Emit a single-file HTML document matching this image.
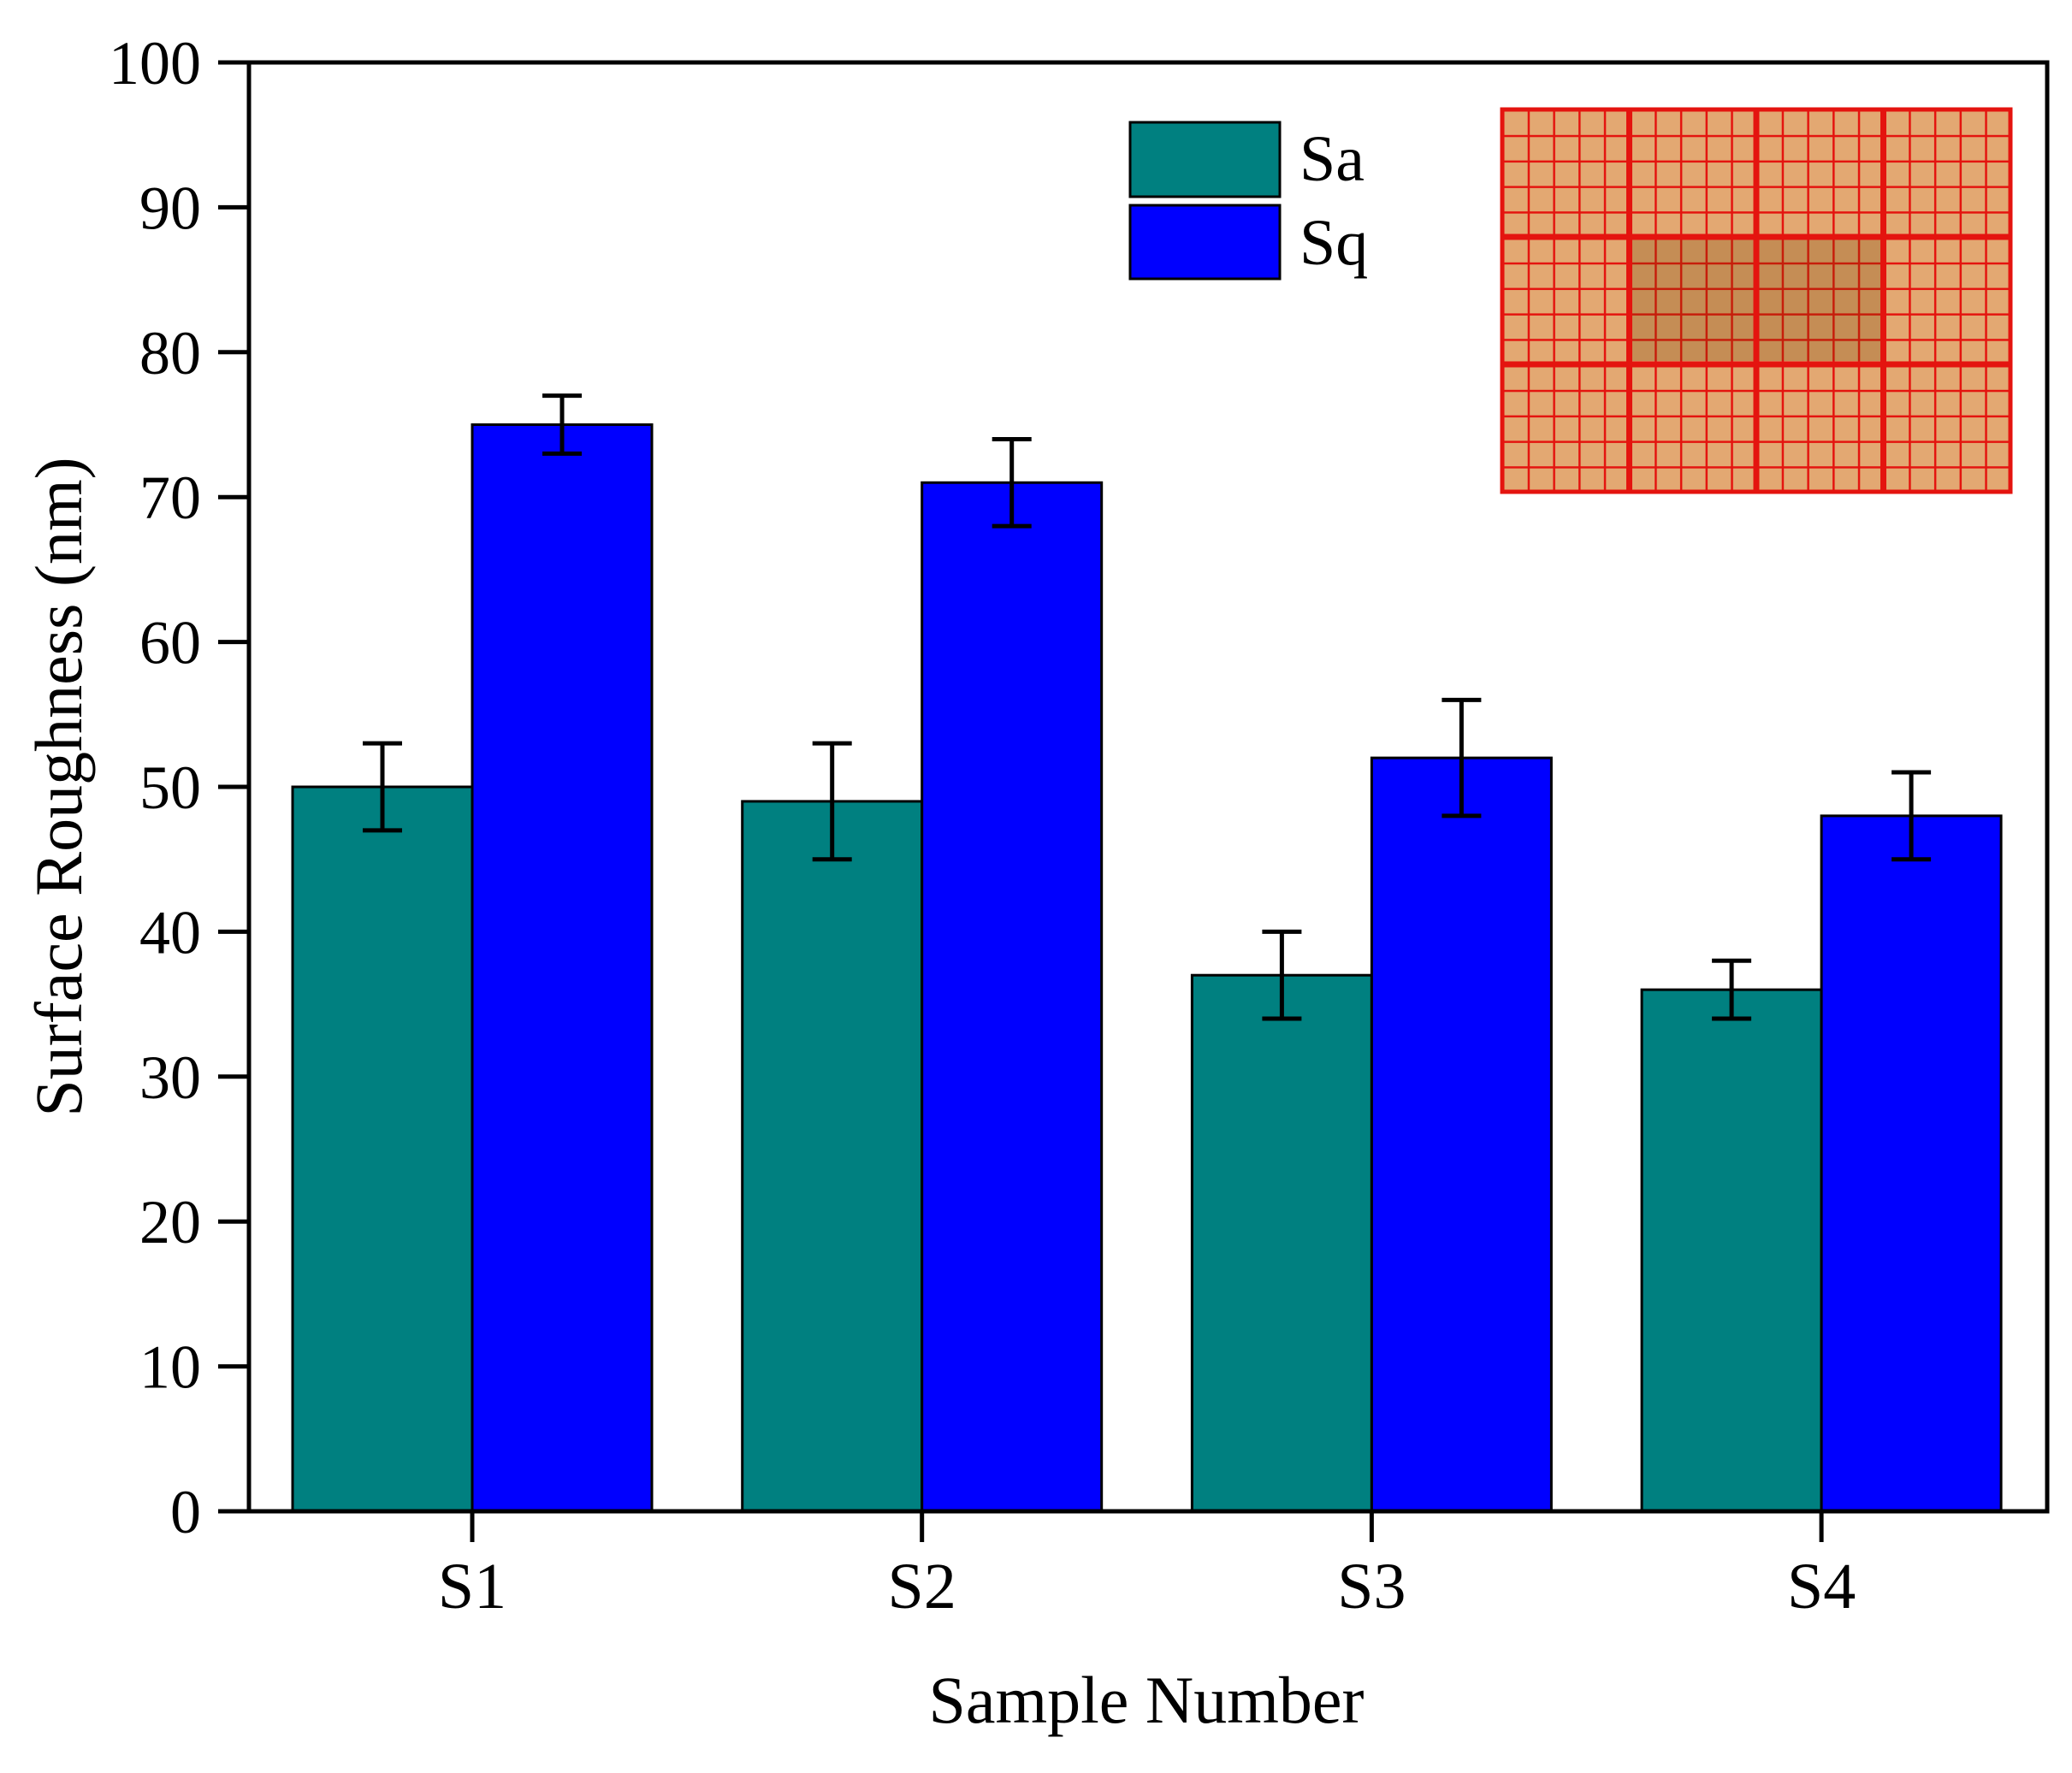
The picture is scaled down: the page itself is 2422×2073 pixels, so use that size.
<!DOCTYPE html>
<html><head><meta charset="utf-8"><style>
html,body{margin:0;padding:0;background:#fff;}
svg{display:block;}
text{font-family:"Liberation Serif",serif;fill:#000;}
</style></head><body>
<svg id="chart" width="2422" height="2073" viewBox="0 0 2422 2073" xmlns="http://www.w3.org/2000/svg">
<defs>
<pattern id="minor" width="29.7" height="29.8" patternUnits="userSpaceOnUse" x="1756" y="128">
<rect width="29.7" height="29.8" fill="#e3a872"/>
<path d="M0 0H29.7M0 0V29.8" stroke="#e4140f" stroke-width="5"/>
</pattern>
</defs>
<g id="inset">
<rect x="1756" y="128" width="594" height="447" fill="url(#minor)"/>
<rect x="1905" y="278" width="293" height="144" fill="#6b3a00" opacity="0.25"/>
<g stroke="#e4140f" stroke-width="7">
<path d="M1904.5 128V575M2053 128V575M2201.5 128V575M1756 277H2350M1756 426H2350"/>
</g>
<rect x="1756" y="128" width="594" height="447" fill="none" stroke="#e4140f" stroke-width="5"/>
</g>
<g id="plot"></g>
<g id="legend">
<rect x="1321" y="143" width="175" height="87" fill="#008080" stroke="#000" stroke-width="3"/>
<text x="1519" y="211" font-size="76">Sa</text>
<rect x="1321" y="240" width="175" height="86" fill="#0000ff" stroke="#000" stroke-width="3"/>
<text x="1519" y="309" font-size="76">Sq</text>
</g>
<text x="1340" y="2014" font-size="78" text-anchor="middle">Sample Number</text>
<text transform="translate(95,920) rotate(-90)" font-size="78" text-anchor="middle">Surface Roughness (nm)</text>
</svg>
<script>
const categories = ["S1","S2","S3","S4"];
const saValues = [50,49,37,36];
const sqValues = [75,71,52,48];
const saErrors = [3,4,3,2];
const sqErrors = [2,3,4,3];
const yTicks = [0,10,20,30,40,50,60,70,80,90,100];

const NS="http://www.w3.org/2000/svg";
const L=291,R=2393,T=73,B=1767;
const y=v=>B-(v/100)*(B-T);
const x=i=>552+i*525.7;
const bw=210;
const g=document.getElementById('plot');
function mk(tag,a){const e=document.createElementNS(NS,tag);for(const k in a)e.setAttribute(k,a[k]);g.appendChild(e);return e;}
function bar(i,v,err,left,color,name){
  const x0=left?x(i)-bw:x(i);
  const r=mk('rect',{x:x0,y:y(v),width:bw,height:B-y(v),fill:color,stroke:'#000','stroke-width':3});
  
  
  const cx=x0+bw/2;
  const e=mk('path',{d:`M${cx} ${y(v-err)}V${y(v+err)}M${cx-23} ${y(v-err)}H${cx+23}M${cx-23} ${y(v+err)}H${cx+23}`,stroke:'#000','stroke-width':5,fill:'none'});
  
  
}
categories.forEach((c,i)=>{
  bar(i,saValues[i],saErrors[i],true,'#008080','bar-sa');
  bar(i,sqValues[i],sqErrors[i],false,'#0000ff','bar-sq');
});
const frame=mk('rect',{x:L,y:T,width:R-L,height:B-T,fill:'none',stroke:'#000','stroke-width':5});


yTicks.forEach(t=>{
  const l=mk('line',{x1:L-36,x2:L,y1:y(t),y2:y(t),stroke:'#000','stroke-width':5});
  
  
  const tx=mk('text',{x:L-56,y:y(t)+25,'font-size':72,'text-anchor':'end'});
  tx.textContent=t;
  
  
});
categories.forEach((c,i)=>{
  const l=mk('line',{x1:x(i),x2:x(i),y1:B,y2:B+36,stroke:'#000','stroke-width':5});
  
  
  const tx=mk('text',{x:x(i),y:1880,'font-size':76,'text-anchor':'middle'});
  tx.textContent=c;
  
  
});
</script>
</body></html>
